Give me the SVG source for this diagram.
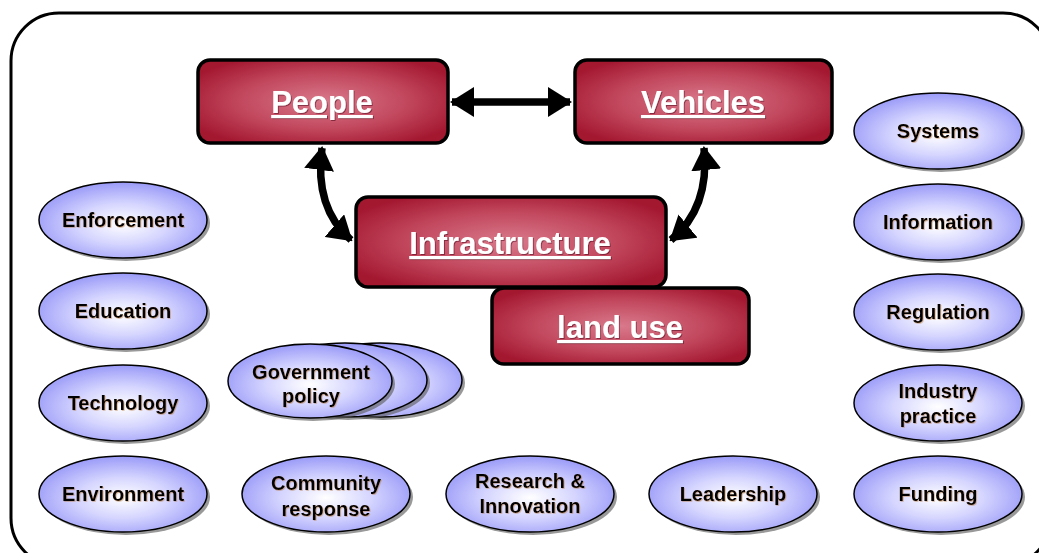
<svg xmlns="http://www.w3.org/2000/svg" width="1039" height="553" viewBox="0 0 1039 553">
<defs>
<radialGradient id="boxGrad" cx="50%" cy="50%" r="60%">
<stop offset="0" stop-color="#d9798b"/>
<stop offset="0.55" stop-color="#c2485e"/>
<stop offset="1" stop-color="#a3172f"/>
</radialGradient>
<radialGradient id="ellGrad" cx="50%" cy="55%" r="55%">
<stop offset="0" stop-color="#ffffff"/>
<stop offset="0.5" stop-color="#d4d4ff"/>
<stop offset="1" stop-color="#9a9af8"/>
</radialGradient>
<filter id="txtShadow" x="-10%" y="-20%" width="120%" height="140%">
<feDropShadow dx="0.8" dy="0.8" stdDeviation="0.3" flood-color="#b07030" flood-opacity="0.5"/>
</filter>
<filter id="boxTxtShadow" x="-10%" y="-20%" width="120%" height="140%">
<feDropShadow dx="1" dy="1" stdDeviation="0.5" flood-color="#400010" flood-opacity="0.5"/>
</filter>
<marker id="head" viewBox="0 0 24 30" refX="22" refY="15" markerWidth="24" markerHeight="30" markerUnits="userSpaceOnUse" orient="auto-start-reverse">
<path d="M0,0 L24,15 L0,30 Z" fill="#000"/>
</marker>
</defs>
<style>
.box{fill:url(#boxGrad);stroke:#000;stroke-width:3.5}
.boxTxt{font-family:"Liberation Sans",Arial,sans-serif;font-weight:bold;font-size:31px;fill:#fff;text-anchor:middle;text-decoration:underline;filter:url(#boxTxtShadow)}
.ell{fill:url(#ellGrad);stroke:#000;stroke-width:1.5}
.shd{fill:#555;opacity:0.6}
.lbl{font-family:"Liberation Sans",Arial,sans-serif;font-weight:bold;font-size:20px;fill:#000;text-anchor:middle;filter:url(#txtShadow)}
.conn{fill:none;stroke:#000;stroke-width:7.5;marker-start:url(#head);marker-end:url(#head)}
</style>
<rect x="11" y="13" width="1040" height="553" rx="48" ry="48" fill="#fff" stroke="#000" stroke-width="3"/>

<g id="connectors">
<path class="conn" d="M452,102 L570,102"/>
<path class="conn" d="M322,148 Q314,208 351,240"/>
<path class="conn" d="M704,148 Q710,208 671,240"/>
</g>

<g id="people">
<rect class="box" x="198" y="60" width="250" height="83" rx="12"/>
<text class="boxTxt" x="322" y="113">People</text>
</g>
<g id="vehicles">
<rect class="box" x="575" y="60" width="257" height="83" rx="12"/>
<text class="boxTxt" x="703" y="113">Vehicles</text>
</g>
<g id="infrastructure">
<rect class="box" x="356" y="197" width="310" height="90" rx="12"/>
<text class="boxTxt" x="510" y="254">Infrastructure</text>
</g>
<g id="landuse">
<rect class="box" x="492" y="288" width="257" height="76" rx="12"/>
<text class="boxTxt" x="620" y="338">land use</text>
</g>

<g id="enforcement">
<ellipse class="shd" cx="126" cy="223" rx="84" ry="38"/>
<ellipse class="ell" cx="123" cy="220" rx="84" ry="38"/>
<text class="lbl" x="123" y="227">Enforcement</text>
</g>
<g id="education">
<ellipse class="shd" cx="126" cy="314" rx="84" ry="38"/>
<ellipse class="ell" cx="123" cy="311" rx="84" ry="38"/>
<text class="lbl" x="123" y="318">Education</text>
</g>
<g id="technology">
<ellipse class="shd" cx="126" cy="406" rx="84" ry="38"/>
<ellipse class="ell" cx="123" cy="403" rx="84" ry="38"/>
<text class="lbl" x="123" y="410">Technology</text>
</g>
<g id="environment">
<ellipse class="shd" cx="126" cy="497" rx="84" ry="38"/>
<ellipse class="ell" cx="123" cy="494" rx="84" ry="38"/>
<text class="lbl" x="123" y="501">Environment</text>
</g>

<g id="systems">
<ellipse class="shd" cx="941" cy="134" rx="84" ry="38"/>
<ellipse class="ell" cx="938" cy="131" rx="84" ry="38"/>
<text class="lbl" x="938" y="138">Systems</text>
</g>
<g id="information">
<ellipse class="shd" cx="941" cy="225" rx="84" ry="38"/>
<ellipse class="ell" cx="938" cy="222" rx="84" ry="38"/>
<text class="lbl" x="938" y="229">Information</text>
</g>
<g id="regulation">
<ellipse class="shd" cx="941" cy="315" rx="84" ry="38"/>
<ellipse class="ell" cx="938" cy="312" rx="84" ry="38"/>
<text class="lbl" x="938" y="319">Regulation</text>
</g>
<g id="industry">
<ellipse class="shd" cx="941" cy="406" rx="84" ry="38"/>
<ellipse class="ell" cx="938" cy="403" rx="84" ry="38"/>
<text class="lbl" x="938" y="398">Industry</text>
<text class="lbl" x="938" y="423">practice</text>
</g>
<g id="funding">
<ellipse class="shd" cx="941" cy="497" rx="84" ry="38"/>
<ellipse class="ell" cx="938" cy="494" rx="84" ry="38"/>
<text class="lbl" x="938" y="501">Funding</text>
</g>

<g id="government">
<ellipse class="shd" cx="383" cy="383" rx="82" ry="37"/>
<ellipse class="ell" cx="380" cy="380" rx="82" ry="37"/>
<ellipse class="shd" cx="348" cy="383" rx="82" ry="37"/>
<ellipse class="ell" cx="345" cy="380" rx="82" ry="37"/>
<ellipse class="shd" cx="313" cy="384" rx="82" ry="37"/>
<ellipse class="ell" cx="310" cy="381" rx="82" ry="37"/>
<text class="lbl" x="311" y="379">Government</text>
<text class="lbl" x="311" y="403">policy</text>
</g>
<g id="community">
<ellipse class="shd" cx="329" cy="497" rx="84" ry="38"/>
<ellipse class="ell" cx="326" cy="494" rx="84" ry="38"/>
<text class="lbl" x="326" y="490">Community</text>
<text class="lbl" x="326" y="516">response</text>
</g>
<g id="research">
<ellipse class="shd" cx="533" cy="497" rx="84" ry="38"/>
<ellipse class="ell" cx="530" cy="494" rx="84" ry="38"/>
<text class="lbl" x="530" y="488">Research &amp;</text>
<text class="lbl" x="530" y="513">Innovation</text>
</g>
<g id="leadership">
<ellipse class="shd" cx="736" cy="497" rx="84" ry="38"/>
<ellipse class="ell" cx="733" cy="494" rx="84" ry="38"/>
<text class="lbl" x="733" y="501">Leadership</text>
</g>
</svg>
